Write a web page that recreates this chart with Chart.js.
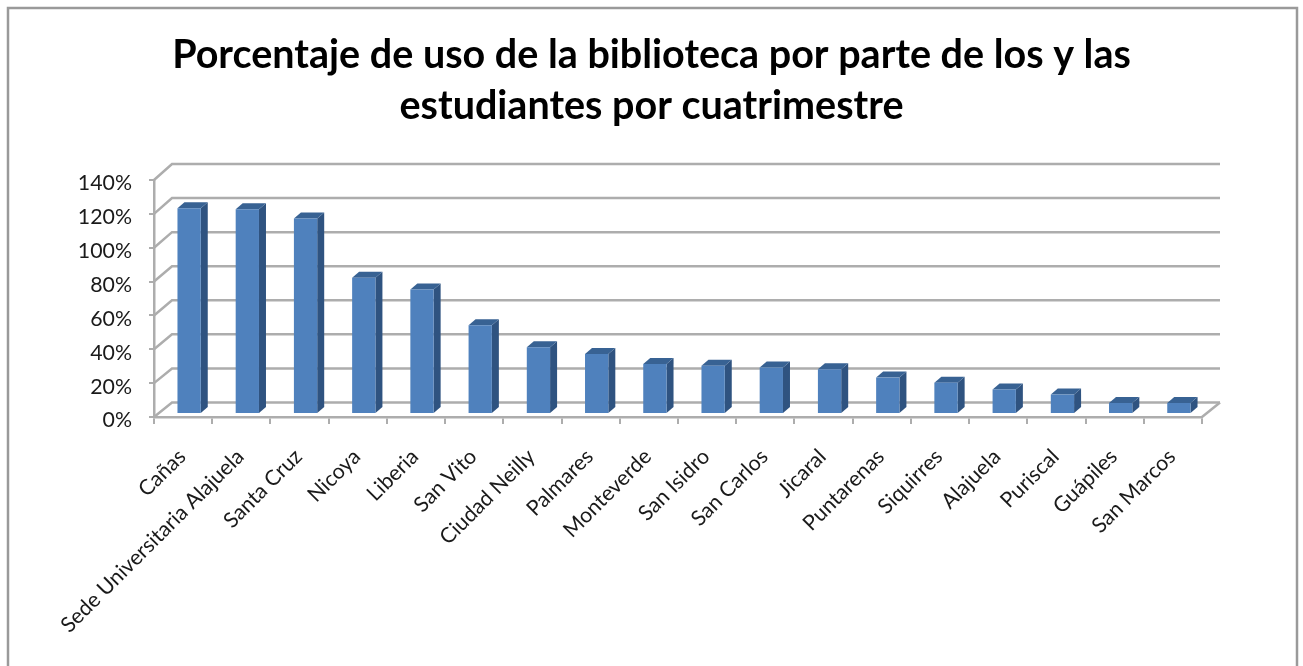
<!DOCTYPE html>
<html lang="es">
<head>
<meta charset="utf-8">
<title>Porcentaje de uso de la biblioteca</title>
<script src="https://cdn.jsdelivr.net/npm/chart.js@4"></script>
<style>
  html, body { margin: 0; padding: 0; background: #fff; overflow: hidden; }
  canvas { display: block; filter: blur(0.5px); }
</style>
</head>
<body>
<canvas id="grafico" width="1303" height="666"></canvas>
<script>
// ── Datos ─────────────────────────────────────────────────────
const SEDES = [
  "Cañas", "Sede Universitaria Alajuela", "Santa Cruz", "Nicoya", "Liberia",
  "San Vito", "Ciudad Neilly", "Palmares", "Monteverde", "San Isidro",
  "San Carlos", "Jicaral", "Puntarenas", "Siquirres", "Alajuela",
  "Puriscal", "Guápiles", "San Marcos",
];
const USO = [121.5, 121, 115.5, 80.5, 73.5, 52.5, 39.5, 35.5, 29.5, 28.5, 27.5, 26.5, 21.5, 18.5, 14.5, 11.5, 6.5, 6.5];
const TITULO = [
  "Porcentaje de uso de la biblioteca por parte de los y las",
  "estudiantes por cuatrimestre",
];

// ── Estilo ────────────────────────────────────────────────────
const GRIS = "#adadad";
const AZUL = "#4f81bd";
const AZUL_LADO = "#2f5380";
const AZUL_TOPE = "#386293";
const FONDO = { x: 18, y: 14.5, extra: 1.5 }; // profundidad de la pared
const BARRA = { x: 6, y: 3 };   // las barras quedan a media profundidad
const CARA = { x: 7, y: 6 };    // profundidad de cada barra

function poligono(ctx, puntos, color) {
  ctx.fillStyle = color;
  ctx.beginPath();
  puntos.forEach(([x, y], i) => (i ? ctx.lineTo(x, y) : ctx.moveTo(x, y)));
  ctx.closePath();
  ctx.fill();
}

// Marco exterior del gráfico
const marco = {
  id: "marco",
  // el título se centra sobre el área de los ejes, no sobre el lienzo libre
  afterLayout(chart) {
    chart.titleBlock.left = 101;
  },
  beforeDraw(chart) {
    const ctx = chart.ctx;
    ctx.save();
    ctx.strokeStyle = "#9a9a9a";
    ctx.lineWidth = 2.5;
    ctx.strokeRect(8, 8, 1289, 700);
    ctx.restore();
  },
};

// Pared del fondo, piso y caras laterales de las barras (efecto 3D)
const efecto3d = {
  id: "efecto3d",
  beforeDatasetsDraw(chart) {
    const ctx = chart.ctx;
    const yEje = chart.scales.y;
    const xEje = chart.scales.x;

    ctx.save();
    ctx.strokeStyle = GRIS;
    ctx.lineWidth = 2.5;
    yEje.ticks.forEach((t) => {
      const y = yEje.getPixelForValue(t.value);
      const atras = y - FONDO.y - (FONDO.extra * t.value) / yEje.max;
      ctx.beginPath();
      ctx.moveTo(xEje.left, y);
      ctx.lineTo(xEje.left + FONDO.x, atras);
      ctx.lineTo(xEje.right + FONDO.x, atras);
      ctx.stroke();
    });
    ctx.beginPath();
    ctx.moveTo(xEje.right, yEje.bottom);
    ctx.lineTo(xEje.right + FONDO.x, yEje.bottom - FONDO.y);
    ctx.stroke();
    ctx.restore();

    // se restaura en afterDatasetsDraw
    ctx.save();
    ctx.translate(BARRA.x, -BARRA.y);
    chart.getDatasetMeta(0).data.forEach((b) => {
      const izq = b.x - b.width / 2;
      const der = b.x + b.width / 2;
      poligono(ctx, [[der, b.y], [der + CARA.x, b.y - CARA.y], [der + CARA.x, b.base - CARA.y], [der, b.base]], AZUL_LADO);
      poligono(ctx, [[izq, b.y], [izq + CARA.x, b.y - CARA.y], [der + CARA.x, b.y - CARA.y], [der, b.y]], AZUL_TOPE);
    });
  },
  afterDatasetsDraw(chart) {
    chart.ctx.restore();
  },
};

new Chart(document.getElementById("grafico"), {
  type: "bar",
  data: {
    labels: SEDES,
    datasets: [
      {
        data: USO,
        backgroundColor: AZUL,
        barPercentage: 0.4,
        categoryPercentage: 1,
      },
    ],
  },
  options: {
    responsive: false,
    animation: false,
    layout: { padding: { left: 0, right: 101, top: 0, bottom: 0 } },
    plugins: {
      legend: { display: false },
      tooltip: { enabled: false },
      title: {
        display: true,
        text: TITULO,
        color: "#000",
        font: { family: "Lato", size: 39.5, weight: "bold", lineHeight: "51px" },
        padding: { top: 30, bottom: 48 },
      },
    },
    scales: {
      x: {
        afterFit: (s) => { s.height = 249; },
        border: { color: GRIS, width: 2.5 },
        grid: { drawOnChartArea: false, color: GRIS, lineWidth: 2, tickLength: 7 },
        ticks: {
          color: "#1a1a1a",
          font: { family: "Lato", size: 21.3 },
          maxRotation: 45,
          minRotation: 45,
          autoSkip: false,
          labelOffset: -1,
          padding: 20,
        },
      },
      y: {
        min: 0,
        max: 140,
        afterFit: (s) => { s.width = 154; },
        border: { color: GRIS, width: 2.5 },
        grid: { drawOnChartArea: false, color: GRIS, lineWidth: 2, tickLength: 5 },
        ticks: {
          stepSize: 20,
          color: "#1a1a1a",
          font: { family: "Lato", size: 21.3 },
          padding: 17,
          labelOffset: 3.5,
          callback: (v) => v + "%",
        },
      },
    },
  },
  plugins: [marco, efecto3d],
});
</script>
</body>
</html>
